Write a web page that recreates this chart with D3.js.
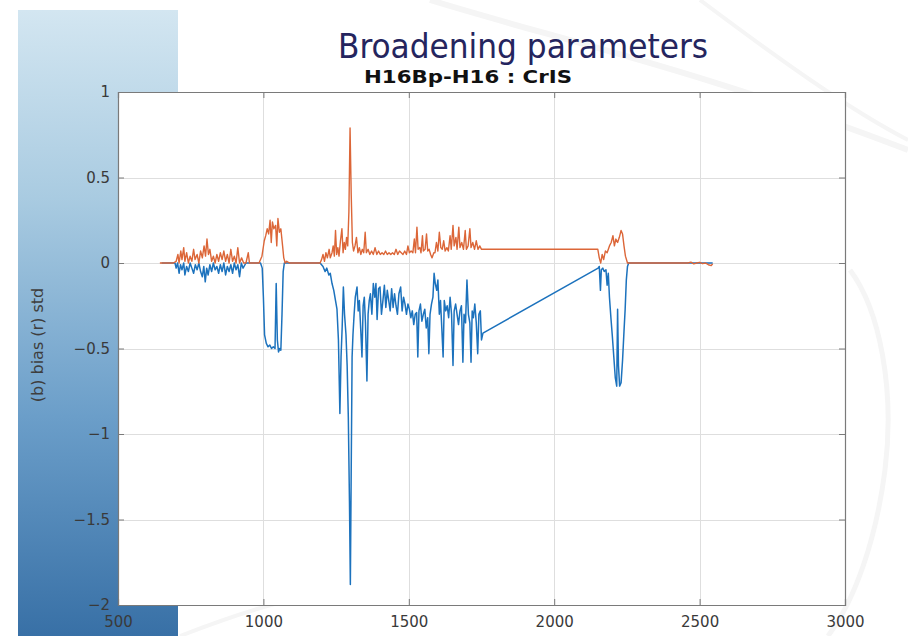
<!DOCTYPE html>
<html>
<head>
<meta charset="utf-8">
<script src="https://cdn.jsdelivr.net/npm/d3@7/dist/d3.min.js"></script>
<style>
  html, body { margin: 0; padding: 0; background: #ffffff; }
  svg { display: block; }
</style>
</head>
<body>
<div id="chart"></div>
<script>
// Std (red) series: wavenumber [cm-1] and value
const stdWavenumber = [
  644, 690, 700, 706, 710, 716, 720, 726, 730, 736, 742, 748, 754, 760, 765, 772, 778, 784, 790, 796,
  801, 806, 811, 816, 822, 828, 834, 840, 846, 852, 858, 864, 870, 876, 882, 888, 894, 900, 906, 912,
  918, 925, 932, 940, 948, 952, 960, 985, 995, 1003, 1008, 1013, 1018, 1023, 1027, 1031, 1036, 1042, 1046, 1050,
  1055, 1060, 1066, 1070, 1075, 1080, 1090, 1195, 1200, 1205, 1210, 1215, 1220, 1226, 1230, 1236, 1240, 1244, 1248, 1252,
  1256, 1260, 1265, 1270, 1274, 1278, 1282, 1286, 1290, 1294, 1298, 1302, 1306, 1310, 1315, 1320, 1325, 1330, 1335, 1340,
  1345, 1350, 1354, 1360, 1366, 1372, 1378, 1384, 1390, 1396, 1402, 1408, 1414, 1420, 1426, 1432, 1438, 1444, 1450, 1456,
  1462, 1468, 1474, 1480, 1486, 1492, 1497, 1502, 1508, 1514, 1519, 1523, 1528, 1532, 1538, 1542, 1547, 1550, 1556, 1561,
  1565, 1570, 1575, 1580, 1586, 1590, 1595, 1600, 1605, 1610, 1615, 1620, 1625, 1631, 1636, 1642, 1646, 1652, 1656, 1662,
  1666, 1672, 1676, 1682, 1688, 1694, 1698, 1704, 1710, 1714, 1720, 1726, 1732, 1738, 1744, 1750, 1755,
  2150, 2155, 2160, 2165, 2170, 2176, 2182, 2190, 2196, 2202, 2207, 2212, 2218, 2224, 2230, 2235, 2240, 2245, 2252, 2260,
  2460, 2470, 2480, 2490, 2500, 2510, 2520, 2530, 2540, 2545
];
const stdValue = [
  0, 0, 0.01, 0.05, 0.0, 0.07, 0.02, 0.09, 0.01, 0.06, 0.0, 0.04, 0.01, 0.08, 0.02, 0.05, 0.0, 0.07, 0.03, 0.10,
  0.04, 0.14, 0.05, 0.08, 0.01, 0.04, 0.0, 0.05, 0.01, 0.06, 0.02, 0.07, 0.01, 0.05, 0.0, 0.08, 0.01, 0.04, 0.0, 0.09,
  0.0, 0.03, 0.0, 0.0, 0.06, 0.0, 0.0, 0.0, 0.04, 0.13, 0.16, 0.20, 0.17, 0.25, 0.12, 0.24, 0.20, 0.22, 0.10, 0.26,
  0.18, 0.20, 0.10, 0.03, 0.0, 0.01, 0.0, 0.0, 0.02, 0.05, 0.01, 0.06, 0.03, 0.08, 0.03, 0.06, 0.10, 0.04, 0.19, 0.05,
  0.09, 0.04, 0.13, 0.20, 0.06, 0.12, 0.08, 0.15, 0.10, 0.30, 0.79, 0.40, 0.12, 0.07, 0.10, 0.15, 0.06, 0.09, 0.05, 0.08,
  0.06, 0.18, 0.06, 0.08, 0.05, 0.07, 0.05, 0.09, 0.05, 0.07, 0.05, 0.06, 0.05, 0.07, 0.05, 0.06, 0.05, 0.06, 0.05, 0.08,
  0.05, 0.07, 0.06, 0.05, 0.07, 0.05, 0.10, 0.06, 0.07, 0.06, 0.14, 0.06, 0.21, 0.08, 0.09, 0.06, 0.16, 0.07, 0.08, 0.17,
  0.07, 0.08, 0.05, 0.03, 0.06, 0.06, 0.12, 0.07, 0.18, 0.09, 0.08, 0.13, 0.07, 0.09, 0.07, 0.16, 0.08, 0.22, 0.10, 0.15,
  0.08, 0.21, 0.09, 0.12, 0.08, 0.19, 0.08, 0.10, 0.20, 0.09, 0.12, 0.08, 0.13, 0.08, 0.10, 0.08, 0.08,
  0.08, 0.03, 0.0, 0.05, 0.02, 0.07, 0.06, 0.10, 0.12, 0.16, 0.10, 0.14, 0.12, 0.15, 0.19, 0.17, 0.10, 0.04, 0.0, 0.0,
  0.0, 0.005, -0.005, 0.0, 0.004, -0.004, 0.0, -0.01, -0.015, -0.005
];

// Bias (blue) series: wavenumber [cm-1] and value
const biasWavenumber = [
  650, 696, 700, 705, 710, 715, 720, 726, 730, 736, 742, 748, 754, 760, 766, 772, 778, 784, 790, 795,
  800, 805, 810, 816, 822, 828, 834, 840, 846, 852, 858, 864, 870, 876, 882, 888, 894, 900, 906, 912,
  918, 924, 930, 940, 990, 996, 1000, 1004, 1010, 1016, 1022, 1028, 1034, 1040, 1044, 1048, 1052, 1056, 1060, 1064,
  1068, 1072, 1090, 1195, 1200, 1205, 1212, 1218, 1225, 1230, 1236, 1242, 1248, 1253, 1258, 1263, 1267, 1271, 1275, 1279,
  1284, 1288, 1292, 1296, 1299, 1302, 1305, 1308, 1312, 1316, 1322, 1326, 1330, 1335, 1339, 1343, 1347, 1351, 1356, 1360,
  1364, 1368, 1373, 1378, 1383, 1387, 1391, 1396, 1401, 1406, 1411, 1416, 1421, 1426, 1431, 1436, 1441, 1446, 1451, 1456,
  1461, 1466, 1472, 1477, 1482, 1487, 1492, 1497, 1502, 1507, 1512, 1517, 1522, 1527, 1531, 1535, 1540, 1545, 1550, 1555,
  1560, 1565, 1569, 1573, 1578, 1583, 1587, 1591, 1596, 1600, 1605, 1609, 1614, 1618, 1622, 1627, 1632, 1637, 1642, 1647,
  1652, 1656, 1661, 1666, 1671, 1676, 1681, 1686, 1690, 1695, 1700, 1705, 1710, 1714, 1718, 1722, 1727, 1732, 1737, 1741,
  1746, 1750, 1755,
  2151, 2155, 2159, 2162, 2167, 2172, 2178, 2182, 2186, 2190, 2195, 2200, 2205, 2210, 2215, 2218, 2221, 2225, 2230, 2235,
  2240, 2244, 2248, 2252, 2256, 2545
];
const biasValue = [
  0, 0, -0.03, 0.0, -0.06, -0.01, -0.04, 0.0, -0.07, -0.02, -0.05, 0.0, -0.03, -0.06, -0.01, -0.04, 0.0, -0.05, -0.08, -0.02,
  -0.11, -0.03, -0.07, -0.01, -0.05, 0.0, -0.04, -0.02, -0.06, -0.01, -0.05, 0.0, -0.07, -0.02, -0.05, -0.01, -0.06, 0.0, -0.04, -0.01,
  -0.08, 0.0, -0.03, 0.0, 0.0, -0.03, -0.20, -0.42, -0.47, -0.49, -0.48, -0.50, -0.49, -0.50, -0.12, -0.45, -0.52, -0.50, -0.51, -0.30,
  -0.05, 0.0, 0.0, 0.0, -0.01, -0.02, -0.05, -0.03, -0.07, -0.06, -0.12, -0.16, -0.22, -0.27, -0.45, -0.88, -0.55, -0.37, -0.14, -0.30,
  -0.42, -0.60, -0.90, -1.40, -1.88, -1.20, -0.55, -0.42, -0.30, -0.20, -0.14, -0.28, -0.22, -0.40, -0.55, -0.25, -0.20, -0.35, -0.69, -0.30,
  -0.22, -0.18, -0.30, -0.12, -0.20, -0.12, -0.33, -0.15, -0.14, -0.30, -0.22, -0.13, -0.26, -0.16, -0.22, -0.28, -0.15, -0.26, -0.18, -0.25,
  -0.30, -0.18, -0.14, -0.28, -0.20, -0.24, -0.30, -0.24, -0.27, -0.32, -0.28, -0.36, -0.30, -0.29, -0.55, -0.28, -0.24, -0.34, -0.30, -0.27,
  -0.38, -0.32, -0.53, -0.30, -0.24, -0.20, -0.06, -0.12, -0.16, -0.10, -0.30, -0.22, -0.40, -0.55, -0.22, -0.28, -0.25, -0.32, -0.20, -0.30,
  -0.60, -0.28, -0.24, -0.30, -0.36, -0.28, -0.25, -0.58, -0.30, -0.35, -0.10, -0.30, -0.35, -0.58, -0.28, -0.32, -0.24, -0.35, -0.53, -0.30,
  -0.28, -0.45, -0.41,
  -0.03, -0.02, -0.16, -0.04, -0.03, -0.05, -0.04, -0.13, -0.06, -0.20, -0.32, -0.43, -0.55, -0.67, -0.72, -0.27, -0.60, -0.72, -0.70, -0.57,
  -0.40, -0.27, -0.10, -0.02, 0.0, 0.0
];

const xTicks = [500, 1000, 1500, 2000, 2500, 3000];
const yTicks = [1, 0.5, 0, -0.5, -1, -1.5, -2];

const W = 908, H = 636;
const plot = { left: 118, right: 845, top: 92, bottom: 605 };

const svg = d3.select("#chart").append("svg")
  .attr("width", W).attr("height", H);

const defs = svg.append("defs");
const grad = defs.append("linearGradient")
  .attr("id", "sidePanel").attr("x1", 0).attr("y1", 0).attr("x2", 0).attr("y2", 1);
grad.append("stop").attr("offset", "0%").attr("stop-color", "#d3e6f1");
grad.append("stop").attr("offset", "30%").attr("stop-color", "#a9cbe1");
grad.append("stop").attr("offset", "65%").attr("stop-color", "#6b9ec9");
grad.append("stop").attr("offset", "100%").attr("stop-color", "#3870a6");

// slide background: faint swooshes on white
const swoosh = svg.append("g").attr("fill", "none").attr("stroke", "#f5f5f5");
swoosh.append("path").attr("d", "M430,0 C560,40 700,70 908,150").attr("stroke-width", 6);
swoosh.append("path").attr("d", "M700,0 C780,60 850,110 908,140").attr("stroke-width", 4);
swoosh.append("path").attr("d", "M850,270 C880,310 895,390 885,470 C876,540 855,600 828,636").attr("stroke-width", 5);
swoosh.append("path").attr("d", "M180,636 C260,605 300,595 380,585").attr("stroke-width", 4);

// blue side panel
svg.append("rect")
  .attr("x", 18).attr("y", 10).attr("width", 160).attr("height", H - 10)
  .attr("fill", "url(#sidePanel)");

const x = d3.scaleLinear().domain([500, 3000]).range([plot.left, plot.right]);
const y = d3.scaleLinear().domain([-2, 1]).range([plot.bottom, plot.top]);

// axes background
svg.append("rect")
  .attr("x", plot.left).attr("y", plot.top)
  .attr("width", plot.right - plot.left).attr("height", plot.bottom - plot.top)
  .attr("fill", "#ffffff");

// grid
const grid = svg.append("g").attr("stroke", "#dedede").attr("stroke-width", 1);
grid.selectAll("line.gx").data(xTicks.slice(1, -1)).join("line")
  .attr("x1", d => Math.round(x(d)) + 0.5).attr("x2", d => Math.round(x(d)) + 0.5)
  .attr("y1", plot.top).attr("y2", plot.bottom);
grid.selectAll("line.gy").data(yTicks.slice(1, -1)).join("line")
  .attr("y1", d => Math.round(y(d)) + 0.5).attr("y2", d => Math.round(y(d)) + 0.5)
  .attr("x1", plot.left).attr("x2", plot.right);

// series
const biasLine = d3.line().x((d, i) => x(biasWavenumber[i])).y(d => y(d));
const stdLine = d3.line().x((d, i) => x(stdWavenumber[i])).y(d => y(d));

svg.append("path").datum(biasValue)
  .attr("d", biasLine)
  .attr("fill", "none").attr("stroke", "#1c72bd").attr("stroke-width", 1.5)
  .attr("stroke-linejoin", "round");
svg.append("path").datum(stdValue)
  .attr("d", stdLine)
  .attr("fill", "none").attr("stroke", "#dc6638").attr("stroke-width", 1.4)
  .attr("stroke-linejoin", "round");

// axes (ticks pointing inward, box on all sides)
const tickLen = 6;
const axisColor = "#7a7a7a";
const fontFam = "'DejaVu Sans', sans-serif";

const xAxisB = d3.axisBottom(x).tickValues(xTicks).tickSize(-tickLen).tickPadding(11).tickFormat(d3.format("d"));
const xAxisT = d3.axisTop(x).tickValues(xTicks).tickSize(-tickLen).tickFormat("");
const yAxisL = d3.axisLeft(y).tickValues(yTicks).tickSize(-tickLen).tickPadding(8).tickFormat(d => d3.format("")(d).replace("-", "\u2212"));
const yAxisR = d3.axisRight(y).tickValues(yTicks).tickSize(-tickLen).tickFormat("");

function styleAxis(g) {
  g.select(".domain").attr("stroke", axisColor).attr("stroke-width", 1.2);
  g.selectAll(".tick line").attr("stroke", axisColor);
  g.selectAll(".tick text").attr("fill", "#3a3a3a").attr("font-size", 15).attr("font-family", fontFam);
}

svg.append("g").attr("transform", `translate(0,${plot.bottom})`).call(xAxisB).call(styleAxis);
svg.append("g").attr("transform", `translate(0,${plot.top})`).call(xAxisT).call(styleAxis);
svg.append("g").attr("transform", `translate(${plot.left},0)`).call(yAxisL).call(styleAxis);
svg.append("g").attr("transform", `translate(${plot.right},0)`).call(yAxisR).call(styleAxis);

// y label
svg.append("text")
  .attr("transform", "translate(43,345) rotate(-90)")
  .attr("text-anchor", "middle")
  .attr("font-family", fontFam).attr("font-size", 16).attr("fill", "#3e3e3e")
  .text("(b) bias (r) std");

// titles
svg.append("text")
  .attr("x", 338).attr("y", 58)
  .attr("font-family", "'DejaVu Sans Condensed', 'DejaVu Sans', sans-serif")
  .attr("font-size", 34).attr("fill", "#25255e")
  .attr("textLength", 370).attr("lengthAdjust", "spacingAndGlyphs")
  .text("Broadening parameters");
svg.append("text")
  .attr("x", 364).attr("y", 83)
  .attr("font-family", "'DejaVu Sans', sans-serif")
  .attr("font-weight", "bold")
  .attr("font-size", 17).attr("fill", "#111111")
  .attr("textLength", 208).attr("lengthAdjust", "spacingAndGlyphs")
  .text("H16Bp-H16 : CrIS");
</script>
</body>
</html>
